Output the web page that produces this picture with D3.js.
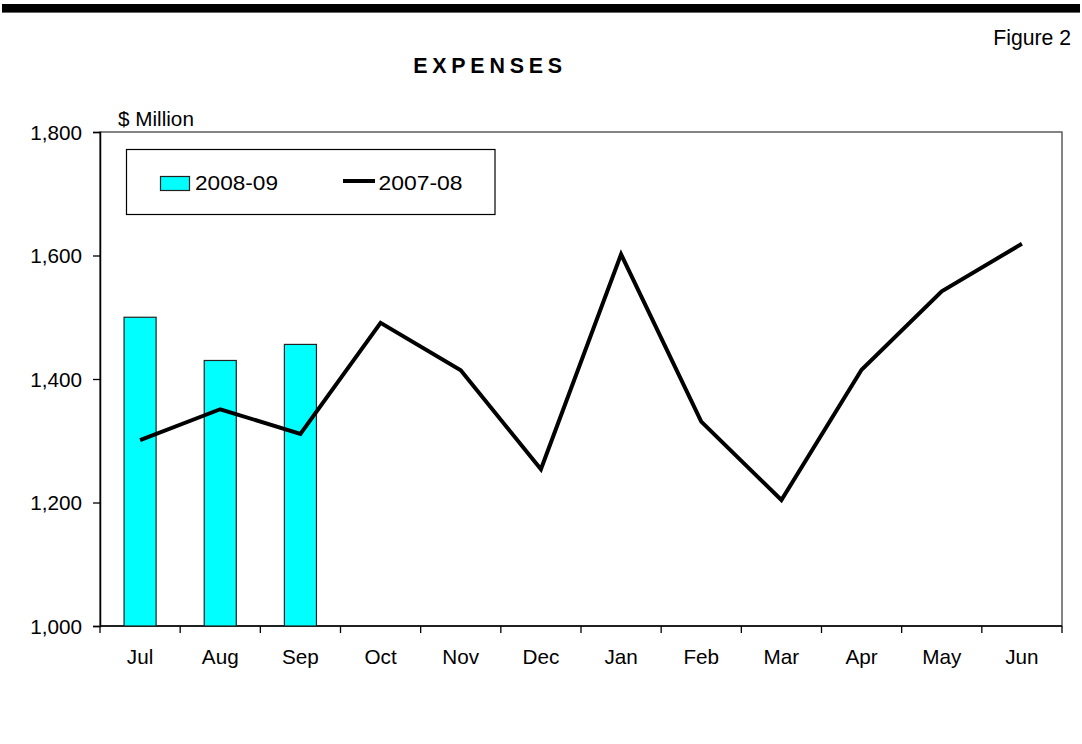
<!DOCTYPE html>
<html>
<head>
<meta charset="utf-8">
<script src="https://cdn.jsdelivr.net/npm/d3@7/dist/d3.min.js"></script>
<style>
  html, body { margin: 0; padding: 0; background: #fff; }
  svg { display: block; font-family: "Liberation Sans", Arial, sans-serif; }
</style>
</head>
<body>
<svg id="chart" width="1082" height="744"></svg>
<script>
const months = ["Jul","Aug","Sep","Oct","Nov","Dec","Jan","Feb","Mar","Apr","May","Jun"];
const barMonths = ["Jul","Aug","Sep"];
const bars200809 = [1500, 1430, 1456];
const line200708 = [1301, 1351, 1311, 1491, 1414, 1254, 1602, 1331, 1204, 1415, 1542, 1619];
const yTicks = [1000, 1200, 1400, 1600, 1800];
const seriesNames = ["2008-09", "2007-08"];

(function () {
const svg = d3.select("#chart");
const pL = 100, pR = 1062, pT = 132, pB = 626;
const FS = 20.7;

// top rule
svg.append("rect").attr("x", 2).attr("y", 4).attr("width", 1078).attr("height", 8.6).attr("fill", "#000");

svg.append("text").attr("x", 1071).attr("y", 45).attr("text-anchor", "end")
  .attr("font-size", 21.2).text("Figure 2");

svg.append("text").attr("x", 490).attr("y", 73).attr("text-anchor", "middle")
  .attr("font-size", 21.4).attr("font-weight", "bold").attr("letter-spacing", 4.8).text("EXPENSES");

svg.append("text").attr("x", 118).attr("y", 126).attr("font-size", FS).text("$ Million");

const x = d3.scaleBand().domain(months).range([pL, pR]).paddingInner(0).paddingOuter(0);
const y = d3.scaleLinear().domain([1000, 1800]).range([pB, pT]);

// plot frame
svg.append("rect").attr("x", pL).attr("y", pT).attr("width", pR - pL).attr("height", pB - pT)
  .attr("fill", "none").attr("stroke", "#444").attr("stroke-width", 1.3);

// y axis
const yAxis = d3.axisLeft(y).tickValues(yTicks).tickSize(7).tickPadding(11)
  .tickFormat(d3.format(","));
const gy = svg.append("g").attr("transform", `translate(${pL},0)`).call(yAxis);
gy.select(".domain").attr("stroke", "#000").attr("stroke-width", 1.5);
gy.selectAll(".tick line").attr("stroke", "#000").attr("stroke-width", 1.3);
gy.selectAll(".tick text").attr("font-size", FS).attr("fill", "#000").attr("dy", "0.34em")
  .attr("font-family", "'Liberation Sans', Arial, sans-serif");

// x axis with ticks at category boundaries
const gx = svg.append("g").attr("transform", `translate(0,${pB})`);
gx.append("line").attr("x1", pL).attr("x2", pR).attr("y1", 0).attr("y2", 0)
  .attr("stroke", "#000").attr("stroke-width", 1.5);
const boundaries = months.map(m => x(m)).concat([pR]);
gx.selectAll("line.tk").data(boundaries).enter().append("line").attr("class", "tk")
  .attr("x1", d => d).attr("x2", d => d).attr("y1", 0).attr("y2", 7)
  .attr("stroke", "#000").attr("stroke-width", 1.3);
gx.selectAll("text").data(months).enter().append("text")
  .attr("x", d => x(d) + x.bandwidth() / 2).attr("y", 37.5).attr("text-anchor", "middle")
  .attr("font-size", FS).text(d => d);

// bars
const bw = x.bandwidth() * 0.4;
svg.selectAll("rect.bar").data(barMonths.map((m, i) => ({m, v: bars200809[i]}))).enter()
  .append("rect").attr("class", "bar")
  .attr("x", d => x(d.m) + x.bandwidth() / 2 - bw / 2)
  .attr("y", d => y(d.v)).attr("width", bw).attr("height", d => y(1000) - y(d.v))
  .attr("fill", "#00ffff").attr("stroke", "#222").attr("stroke-width", 1.2);

// line
const line = d3.line().x((d, i) => x(months[i]) + x.bandwidth() / 2).y(d => y(d));
svg.append("path").datum(line200708).attr("d", line).attr("fill", "none")
  .attr("stroke", "#000").attr("stroke-width", 4).attr("stroke-linejoin", "miter");

// legend
svg.append("rect").attr("x", 126.5).attr("y", 149.5).attr("width", 368.5).attr("height", 65)
  .attr("fill", "#fff").attr("stroke", "#000").attr("stroke-width", 1.2);
svg.append("rect").attr("x", 160.5).attr("y", 176.5).attr("width", 29).attr("height", 14)
  .attr("fill", "#00ffff").attr("stroke", "#222").attr("stroke-width", 1.2);
svg.append("text").attr("x", 195).attr("y", 190).attr("font-size", 20)
  .attr("textLength", 83).attr("lengthAdjust", "spacingAndGlyphs").text(seriesNames[0]);
svg.append("line").attr("x1", 343).attr("x2", 375).attr("y1", 181).attr("y2", 181)
  .attr("stroke", "#000").attr("stroke-width", 4);
svg.append("text").attr("x", 378.5).attr("y", 190).attr("font-size", 20)
  .attr("textLength", 84).attr("lengthAdjust", "spacingAndGlyphs").text(seriesNames[1]);
})();
</script>
</body>
</html>
